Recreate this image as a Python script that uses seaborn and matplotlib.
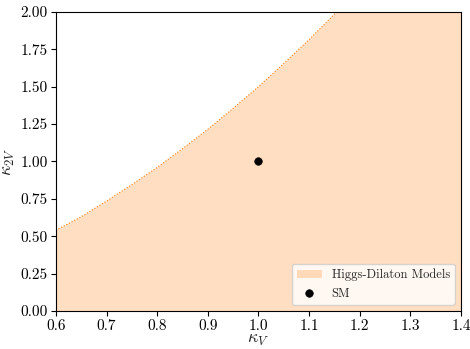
import matplotlib
matplotlib.use("Agg")

import matplotlib.pyplot as plt
import pandas as pd
import seaborn as sns


# Boundary of the Higgs-Dilaton region
kappa_v = [0.60, 0.65, 0.70, 0.75, 0.80, 0.85, 0.90, 0.95, 1.00,
           1.05, 1.10, 1.15, 1.20, 1.25, 1.30, 1.35, 1.40]
kappa_2v = [0.54, 0.63, 0.735, 0.845, 0.96, 1.085, 1.215, 1.355, 1.50,
            1.655, 1.815, 1.985, 2.16, 2.345, 2.535, 2.735, 2.94]

sm_kappa_v = [1.0]
sm_kappa_2v = [1.0]

x_ticks = [0.6, 0.7, 0.8, 0.9, 1.0, 1.1, 1.2, 1.3, 1.4]
y_ticks = [0.00, 0.25, 0.50, 0.75, 1.00, 1.25, 1.50, 1.75, 2.00]


sns.set_style("ticks")
plt.rcParams["font.family"] = "serif"
plt.rcParams["font.serif"] = ["cmr10", "DejaVu Serif"]
plt.rcParams["mathtext.fontset"] = "cm"
plt.rcParams["axes.formatter.use_mathtext"] = True
plt.rcParams["axes.edgecolor"] = "black"
plt.rcParams["xtick.color"] = "black"
plt.rcParams["ytick.color"] = "black"

boundary = pd.DataFrame({"kv": kappa_v, "k2v": kappa_2v})
sm = pd.DataFrame({"kv": sm_kappa_v, "k2v": sm_kappa_2v})

fig = plt.figure(figsize=(4.7, 3.49), dpi=100)
ax = fig.add_axes([0.119, 0.109, 0.862, 0.857])

ax.fill_between(
    boundary["kv"],
    0,
    boundary["k2v"],
    color="#ff7f0e",
    alpha=0.25,
    linewidth=0,
    label="Higgs-Dilaton Models"
)

sns.lineplot(
    data=boundary,
    x="kv",
    y="k2v",
    color="#ff7f0e",
    linewidth=0.8,
    linestyle=":",
    ax=ax,
    legend=False
)

sns.scatterplot(
    data=sm,
    x="kv",
    y="k2v",
    color="black",
    s=30,
    edgecolor="black",
    label="SM",
    ax=ax,
    zorder=5
)

ax.set_xlim(0.6, 1.4)
ax.set_ylim(0, 2)
ax.set_xticks(x_ticks)
ax.set_yticks(y_ticks)
ax.set_xticklabels([f"{t:.1f}" for t in x_ticks])
ax.set_yticklabels([f"{t:.2f}" for t in y_ticks])
ax.tick_params(labelsize=11, length=3.5, pad=2.5)

ax.set_xlabel(r"$\kappa_V$", fontsize=13, labelpad=0)
ax.set_ylabel(r"$\kappa_{2V}$", fontsize=13, labelpad=2)

ax.legend(loc="lower right", fontsize=9, frameon=True)

fig.savefig("out.png", dpi=100)
